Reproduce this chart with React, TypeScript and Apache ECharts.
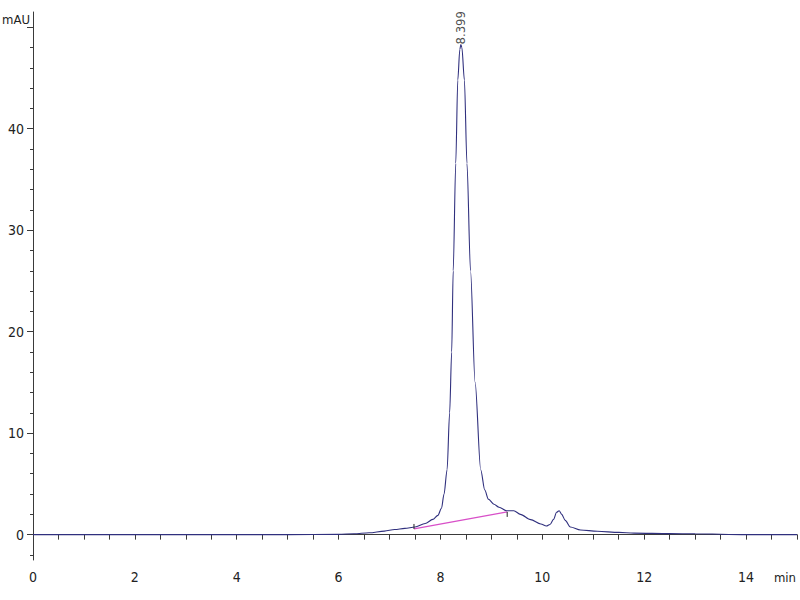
import React, { useEffect, useRef } from "react";
import * as echarts from "echarts";

const retentionTimes = [
  0, 1, 2, 3, 4, 5, 6.0, 6.3, 6.6, 6.9, 7.1, 7.3, 7.5, 7.7, 7.85, 7.95, 8.02, 8.07,
  8.13, 8.18, 8.22, 8.25, 8.3, 8.34, 8.38, 8.4, 8.42, 8.47, 8.52, 8.59, 8.68, 8.79,
  8.87, 8.94, 9.05, 9.15, 9.3, 9.44, 9.57, 9.77, 9.97, 10.08, 10.15, 10.22, 10.28,
  10.33, 10.38, 10.45, 10.55, 10.75, 11.08, 11.5, 11.8, 12.5, 13.0, 14, 15,
];
const absorbance = [
  0, 0, 0, 0, 0, 0, 0.03, 0.08, 0.18, 0.35, 0.5, 0.62, 0.75, 1.1, 1.5, 1.9, 2.6, 4,
  6.4, 12, 18, 26, 36.6, 44.8, 47.8, 48.3, 48.0, 44.8, 36.6, 26, 15, 6.4,
  4.4, 3.5, 3.0, 2.7, 2.35, 2.35, 2.0, 1.48, 1.05, 0.85, 1.0, 1.5, 2.2,
  2.35, 2.0, 1.4, 0.75, 0.45, 0.33, 0.22, 0.15, 0.1, 0.08, 0, 0,
];

const peakTime = 8.399;
const peakHeight = 48.3;
const peakLabel = "8.399";

const integrationStart = [7.48, 0.56];
const integrationEnd = [9.31, 2.24];

const xLabelValues = [0, 2, 4, 6, 8, 10, 12, 14];
const xTickValues = [
  0, 0.5, 1, 1.5, 2, 2.5, 3, 3.5, 4, 4.5, 5, 5.5, 6, 6.5, 7, 7.5, 8, 8.5, 9, 9.5,
  10, 10.5, 11, 11.5, 12, 12.5, 13, 13.5, 14, 14.5, 15,
];
const yLabelValues = [0, 10, 20, 30, 40];
const yMajorTicks = [0, 10, 20, 30, 40, 50];
const yMinorTicks = [
  -2, 2, 4, 6, 8, 12, 14, 16, 18, 22, 24, 26, 28, 32, 34, 36, 38, 42, 44, 46, 48,
];

const FONT = "'Liberation Sans Narrow', 'DejaVu Sans Condensed', 'Liberation Sans', sans-serif";
const AXIS_COLOR = "#3a3a3a";
const TEXT_COLOR = "#222";

export default function App() {
  const ref = useRef<HTMLDivElement>(null);

  useEffect(() => {
    if (!ref.current) return;
    const chart = echarts.init(ref.current, null, { renderer: "svg" });

    const traceData = retentionTimes.map((t, i) => [t, absorbance[i]]);

    chart.setOption({
      animation: false,
      backgroundColor: "#ffffff",
      grid: { left: 33, right: 3, top: 12, bottom: 40, containLabel: false },
      xAxis: {
        type: "value",
        min: 0,
        max: 15,
        axisLine: { show: true, lineStyle: { color: AXIS_COLOR, width: 1 } },
        axisTick: {
          show: true,
          customValues: xTickValues,
          length: 5,
          lineStyle: { color: AXIS_COLOR },
        },
        axisLabel: {
          customValues: xLabelValues,
          color: TEXT_COLOR,
          fontFamily: FONT,
          fontSize: 14,
          margin: 10,
        },
        splitLine: { show: false },
      },
      yAxis: [
        {
          type: "value",
          min: -2.5,
          max: 51.5,
          position: "left",
          axisLine: { show: true, onZero: false, lineStyle: { color: AXIS_COLOR, width: 1 } },
          axisTick: {
            show: true,
            customValues: yMajorTicks,
            length: 6,
            lineStyle: { color: AXIS_COLOR },
          },
          axisLabel: {
            customValues: yLabelValues,
            color: TEXT_COLOR,
            fontFamily: FONT,
            fontSize: 14,
            margin: 9,
          },
          splitLine: { show: false },
        },
        {
          type: "value",
          min: -2.5,
          max: 51.5,
          position: "left",
          axisLine: { show: false, onZero: false },
          axisTick: {
            show: true,
            inside: false,
            customValues: yMinorTicks,
            length: 3,
            lineStyle: { color: AXIS_COLOR },
          },
          axisLabel: { show: false },
          splitLine: { show: false },
        },
      ],
      graphic: [
        {
          type: "text",
          left: 2,
          top: 13,
          style: { text: "mAU", fill: TEXT_COLOR, font: `13px ${FONT}` },
        },
        {
          type: "text",
          right: 4,
          top: 571,
          style: { text: "min", fill: TEXT_COLOR, font: `13px ${FONT}` },
        },
      ],
      series: [
        {
          type: "line",
          data: [integrationStart, integrationEnd],
          showSymbol: false,
          lineStyle: { color: "#d84fc8", width: 1.2 },
          z: 2,
        },
        {
          type: "line",
          data: traceData,
          showSymbol: false,
          smooth: 0.3,
          smoothMonotone: "x",
          lineStyle: { color: "#30307e", width: 1.1 },
          z: 3,
        },
        {
          type: "custom",
          data: [
            [integrationStart[0], integrationStart[1], -1],
            [integrationEnd[0], integrationEnd[1], 1],
          ],
          renderItem: (params: any, api: any) => {
            const p = api.coord([api.value(0), api.value(1)]);
            const dir = api.value(2);
            return {
              type: "line",
              shape: { x1: p[0], y1: p[1], x2: p[0], y2: p[1] + dir * 5 },
              style: { stroke: "#222", lineWidth: 1 },
            };
          },
          z: 4,
        },
        {
          type: "scatter",
          data: [[peakTime, peakHeight]],
          symbolSize: 0,
          label: {
            show: true,
            formatter: peakLabel,
            position: "top",
            distance: 0,
            rotate: 90,
            align: "left",
            verticalAlign: "middle",
            color: TEXT_COLOR,
            fontFamily: FONT,
            fontSize: 13,
          },
          z: 5,
        },
      ],
    });

    return () => chart.dispose();
  }, []);

  return (
    <div
      ref={ref}
      style={{ position: "fixed", left: 0, top: 0, width: 800, height: 600 }}
    />
  );
}
